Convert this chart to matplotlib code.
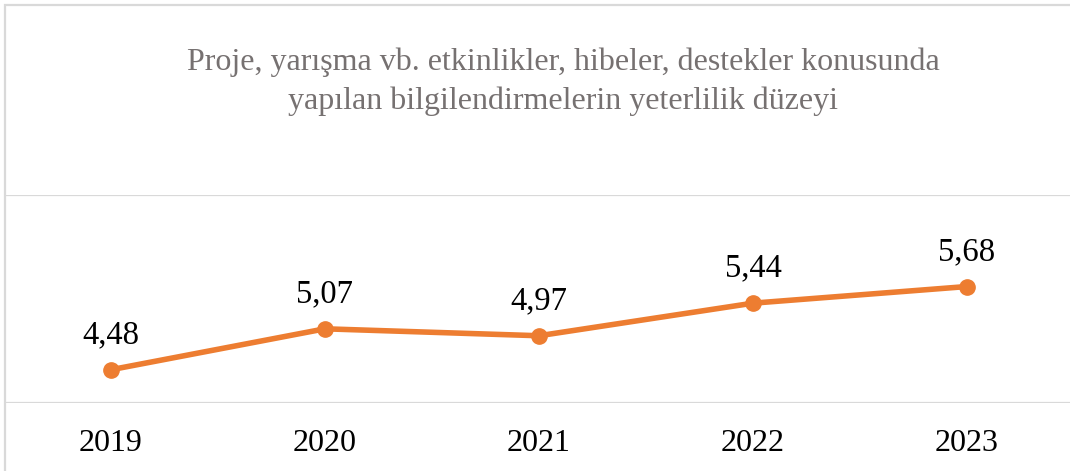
import matplotlib
matplotlib.use("Agg")
import matplotlib.pyplot as plt
from matplotlib.patches import Rectangle

years = ["2019", "2020", "2021", "2022", "2023"]
scores = [4.48, 5.07, 4.97, 5.44, 5.68]
title_lines = [
    "Proje, yarışma vb. etkinlikler, hibeler, destekler konusunda",
    "yapılan bilgilendirmelerin yeterlilik düzeyi",
]

W, H = 1070, 471
plt.rcParams["font.family"] = ["Liberation Serif", "DejaVu Serif"]

fig = plt.figure(figsize=(W / 100, H / 100), dpi=100)

# chart border (only top and left edges fall inside the image)
fig.patches.append(Rectangle((5 / W, -0.1), 1.2, (H - 5) / H + 0.1,
                             transform=fig.transFigure, fill=False,
                             edgecolor="#d9d9d9", linewidth=1.6))

# plot area: y = 4 at row 403, y = 7 at row 195; categories spaced ~214 px
ax = fig.add_axes([4 / W, (H - 403) / H, 1070 / W, (403 - 195) / H])
ax.set_xlim(-0.5, 4.5)
ax.set_ylim(4, 7)
for spine in ax.spines.values():
    spine.set_visible(False)
ax.set_yticks([4, 7])
ax.yaxis.grid(True, color="#d9d9d9", linewidth=1.6)
ax.set_axisbelow(True)
ax.tick_params(axis="y", left=False, labelleft=False)

xs = list(range(len(years)))
ax.plot(xs, scores, color="#ed7d31", linewidth=4, marker="o",
        markersize=11, solid_capstyle="round", clip_on=False, zorder=3)
ax.set_xticks(xs)
ax.set_xticklabels(years, fontsize=23)
ax.tick_params(axis="x", bottom=False, pad=15)

for x, v in zip(xs, scores):
    ax.annotate(f"{v:.2f}".replace(".", ","), (x, v), xytext=(0, 25),
                textcoords="offset points", ha="center", va="center",
                fontsize=23.5, color="black")

fig.text(563 / W, 1 - 62 / H, title_lines[0], ha="center", va="center",
         fontsize=23, color="#767171")
fig.text(563 / W, 1 - 101 / H, title_lines[1], ha="center", va="center",
         fontsize=23, color="#767171")

fig.savefig("out.png", dpi=100)
